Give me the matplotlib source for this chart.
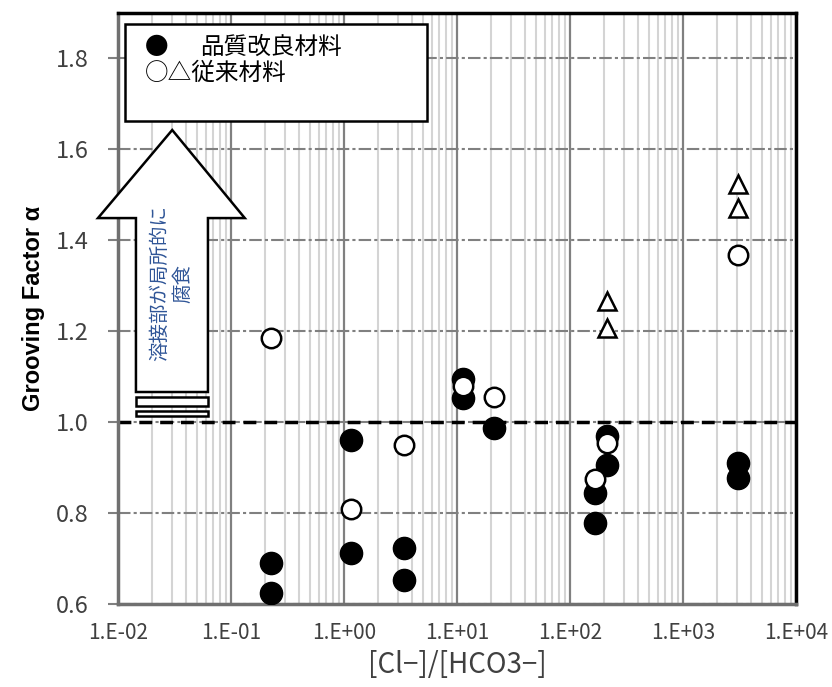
import numpy as np
import matplotlib.pyplot as plt
from matplotlib.patches import Polygon, Rectangle
from matplotlib.ticker import LogLocator, FixedLocator, NullFormatter

plt.rcParams['font.family'] = ['Noto Sans CJK JP', 'DejaVu Sans']

# improved material (filled circles)
new_x = [0.226, 0.226, 1.15, 1.15, 3.4, 3.4, 11.3, 11.3, 21.3, 212, 212, 166, 166, 3090, 3090]
new_y = [0.690, 0.625, 0.960, 0.712, 0.723, 0.653, 1.094, 1.053, 0.987, 0.969, 0.905, 0.844, 0.778, 0.910, 0.877]

# conventional material (open circles / triangles)
old_cx = [0.226, 1.15, 3.4, 11.3, 21.3, 212, 166, 3090]
old_cy = [1.185, 0.809, 0.949, 1.079, 1.055, 0.954, 0.875, 1.367]
old_tx = [212, 212, 3090, 3090]
old_ty = [1.266, 1.207, 1.523, 1.470]

xticks = [1e-2, 1e-1, 1e0, 1e1, 1e2, 1e3, 1e4]
xlabels = ['1.E-02', '1.E-01', '1.E+00', '1.E+01', '1.E+02', '1.E+03', '1.E+04']
yticks = [0.6, 0.8, 1.0, 1.2, 1.4, 1.6, 1.8]

fig = plt.figure(figsize=(8.32, 6.87), dpi=100)
ax = fig.add_axes([0.1418, 0.1208, 0.8149, 0.8603])

ax.set_xscale('log')
ax.set_xlim(1e-2, 1e4)
ax.set_ylim(0.6, 1.9)

# grid
ax.xaxis.set_minor_locator(LogLocator(base=10, subs=np.arange(2, 10)))
ax.xaxis.set_minor_formatter(NullFormatter())
ax.grid(which='minor', axis='x', color='#d4d4d4', lw=1.5, zorder=0)
ax.grid(which='major', axis='x', color='#808080', lw=1.6, zorder=0)
ax.grid(which='major', axis='y', color='#808080', lw=1.5,
        linestyle=(0, (6, 1.5, 1.5, 1.5)), zorder=0)

ax.set_xticks(xticks)
ax.set_xticklabels(xlabels)
ax.yaxis.set_major_locator(FixedLocator(yticks))
ax.set_yticklabels(['%.1f' % v for v in yticks])
ax.tick_params(axis='x', which='both', length=0, pad=13, labelsize=15, labelcolor='#404040')
ax.tick_params(axis='y', length=7, width=1.5, color='#808080', pad=14,
               labelsize=17, labelcolor='#404040')

for s in ['top', 'right']:
    ax.spines[s].set_color('black')
    ax.spines[s].set_linewidth(2.5)
for s in ['left', 'bottom']:
    ax.spines[s].set_color('#707070')
    ax.spines[s].set_linewidth(2.5)

ax.axhline(1.0, color='black', lw=2.5, linestyle=(0, (3.7, 2.3)), zorder=2)

ax.plot(new_x, new_y, 'o', color='black', markersize=16, zorder=3)
ax.plot(old_cx, old_cy, 'o', mfc='white', mec='black', mew=1.8, markersize=14, zorder=4)
ax.plot(old_tx, old_ty, '^', mfc='white', mec='black', mew=1.8, markersize=13, zorder=4)

ax.set_xlabel('[Cl−]/[HCO3−]', fontsize=20, color='#404040', labelpad=4)
ax.set_ylabel('Grooving Factor α', fontsize=17, fontweight='bold',
              family=['Liberation Sans', 'DejaVu Sans'], labelpad=8)

# legend box
tr = ax.transAxes
ax.add_patch(Rectangle((0.0103, 0.817), 0.445, 0.164, transform=tr, fc='white',
                       ec='black', lw=1.8, zorder=6))
ax.text(0.040, 0.942, '●', transform=tr, fontsize=17, va='center', zorder=7)
ax.text(0.121, 0.942, '品質改良材料', transform=tr, fontsize=17, va='center', zorder=7)
ax.text(0.040, 0.898, '○△従来材料', transform=tr, fontsize=17, va='center', zorder=7)

# upward block arrow
arrow = [(0.080, 0.802), (0.187, 0.653), (0.1327, 0.653), (0.1327, 0.3587),
         (0.0265, 0.3587), (0.0265, 0.653), (-0.0295, 0.653)]
ax.add_patch(Polygon(arrow, closed=True, transform=tr, fc='white', ec='black',
                     lw=1.8, clip_on=False, zorder=6))
ax.add_patch(Rectangle((0.0265, 0.335), 0.1062, 0.015, transform=tr, fc='white',
                       ec='black', lw=1.8, zorder=6))
ax.add_patch(Rectangle((0.0265, 0.318), 0.1062, 0.0086, transform=tr, fc='white',
                       ec='black', lw=1.8, zorder=6))
ax.text(0.0785, 0.543, '溶接部が局所的に\n腐食', transform=tr, rotation=90,
        ha='center', va='center', multialignment='center', fontsize=14,
        color='#2F5597', linespacing=1.15, zorder=7)

fig.savefig('out.png', dpi=100)
